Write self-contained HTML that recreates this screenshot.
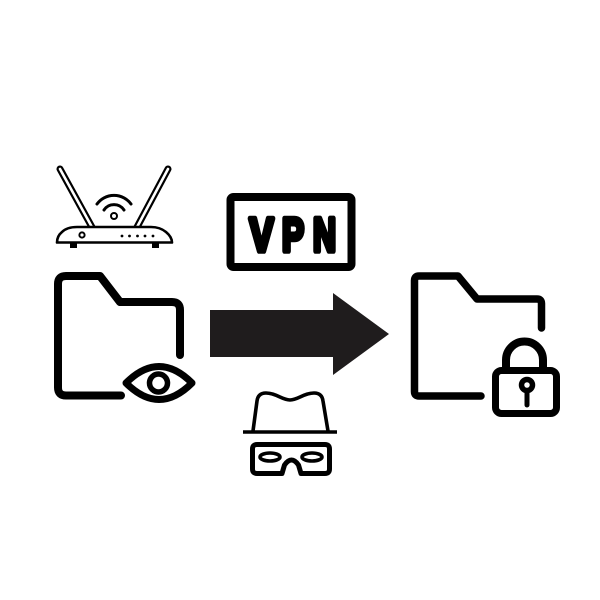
<!DOCTYPE html>
<html>
<head>
<meta charset="utf-8">
<style>
  html, body { margin: 0; padding: 0; background: #ffffff; }
  svg { display: block; }
</style>
</head>
<body>
<svg width="600" height="600" viewBox="0 0 600 600" xmlns="http://www.w3.org/2000/svg">
  <rect x="0" y="0" width="600" height="600" fill="#ffffff"/>

  <!-- Router -->
  <g stroke="#000" fill="none">
    <line x1="60" y1="169" x2="93" y2="229" stroke-width="7" stroke-linecap="round"/>
    <line x1="60" y1="169" x2="93" y2="229" stroke="#fff" stroke-width="2.6" stroke-linecap="round"/>
    <line x1="168" y1="169" x2="136" y2="229" stroke-width="7" stroke-linecap="round"/>
    <line x1="168" y1="169" x2="136" y2="229" stroke="#fff" stroke-width="2.6" stroke-linecap="round"/>
    <path d="M 57 242.5 Q 57 236 62 232 Q 67 227 77 227 H 151 Q 160 227 166 232 Q 172 237 172 242.5 Z" fill="#fff" stroke-width="2.6" stroke-linejoin="round"/>
    <circle cx="82" cy="235" r="2.6" fill="#fff" stroke-width="2"/>
    <path d="M 97 204 A 21 21 0 0 1 131 204" stroke-width="3" stroke-linecap="round"/>
    <path d="M 104 210 A 12 12 0 0 1 124 210" stroke-width="3" stroke-linecap="round"/>
  </g>
  <circle cx="114" cy="216" r="3" fill="#fff" stroke="#000" stroke-width="2"/>
  <g fill="#000">
    <circle cx="122" cy="236" r="1.4"/>
    <circle cx="129.5" cy="236" r="1.4"/>
    <circle cx="137.5" cy="236" r="1.4"/>
    <circle cx="145" cy="236" r="1.4"/>
    <circle cx="153" cy="236" r="1.4"/>
    <rect x="70" y="243" width="7" height="5"/>
    <rect x="152" y="243" width="7" height="5"/>
  </g>

  <!-- Left folder with eye -->
  <g stroke="#000" fill="none" stroke-width="8" stroke-linecap="round" stroke-linejoin="round">
    <path d="M 121 395.5 H 66 Q 58 395.5 58 387.5 V 284 Q 58 276 66 276 H 100 L 120 302 H 172 Q 180 302 180 310 V 355"/>
    <path d="M 126 383 Q 159 350 192 383 Q 159 416 126 383 Z" stroke-width="7"/>
    <circle cx="158.5" cy="383" r="9" stroke-width="5.5"/>
  </g>

  <!-- VPN box -->
  <rect x="230.5" y="197" width="121" height="70" rx="3" fill="none" stroke="#000" stroke-width="8"/>
  <g font-family="Liberation Sans, sans-serif" font-weight="bold" font-size="47" fill="#000" stroke="#000" stroke-width="5.5" stroke-linejoin="round" stroke-linecap="round">
    <text x="249.5" y="251" textLength="24" lengthAdjust="spacingAndGlyphs">V</text>
    <text x="282" y="251" textLength="22" lengthAdjust="spacingAndGlyphs">P</text>
    <text x="313" y="251" textLength="23" lengthAdjust="spacingAndGlyphs">N</text>
  </g>

  <!-- Arrow -->
  <polygon points="210,310 333,310 333,293 389,334 333,375 333,357 210,357" fill="#1f1c1d"/>

  <!-- Hat & mask -->
  <g stroke="#000" fill="none" stroke-linejoin="round">
    <line x1="243" y1="432" x2="337" y2="432" stroke-width="3.5"/>
    <path d="M 253 431 L 257 401 Q 258 393 266 393 C 276 393 282 400 290 400 C 298 400 304 393 314 393 Q 322 393 323 401 L 328 431" stroke-width="3.6"/>
    <path d="M 282 473.5 H 257 Q 252.5 473.5 252.5 469 V 449 Q 252.5 444.5 257 444.5 H 325 Q 329.5 444.5 329.5 449 V 469 Q 329.5 473.5 325 473.5 H 301 L 298.5 465 Q 291.5 455 284.5 465 Z" stroke-width="5"/>
    <ellipse cx="270" cy="457" rx="10" ry="4" stroke-width="3.6"/>
    <ellipse cx="312" cy="457" rx="10" ry="4" stroke-width="3.6"/>
  </g>

  <!-- Right folder with lock -->
  <g stroke="#000" fill="none" stroke-width="7.5" stroke-linecap="round" stroke-linejoin="round">
    <path d="M 481 396 H 419 Q 414.5 396 414.5 391.5 V 280.5 Q 414.5 276 419 276 H 458 L 477 299 H 537 Q 541.5 299 541.5 303.5 V 328"/>
    <path d="M 506 370 V 360 A 18.5 18.5 0 0 1 543 360 V 370" stroke-width="8"/>
    <rect x="495.5" y="370.5" width="61" height="43" rx="6" fill="#fff" stroke-width="7"/>
    <circle cx="527" cy="385" r="5.5" stroke-width="5.5"/>
    <line x1="527" y1="392" x2="527" y2="405" stroke-width="5"/>
  </g>
</svg>
</body>
</html>
